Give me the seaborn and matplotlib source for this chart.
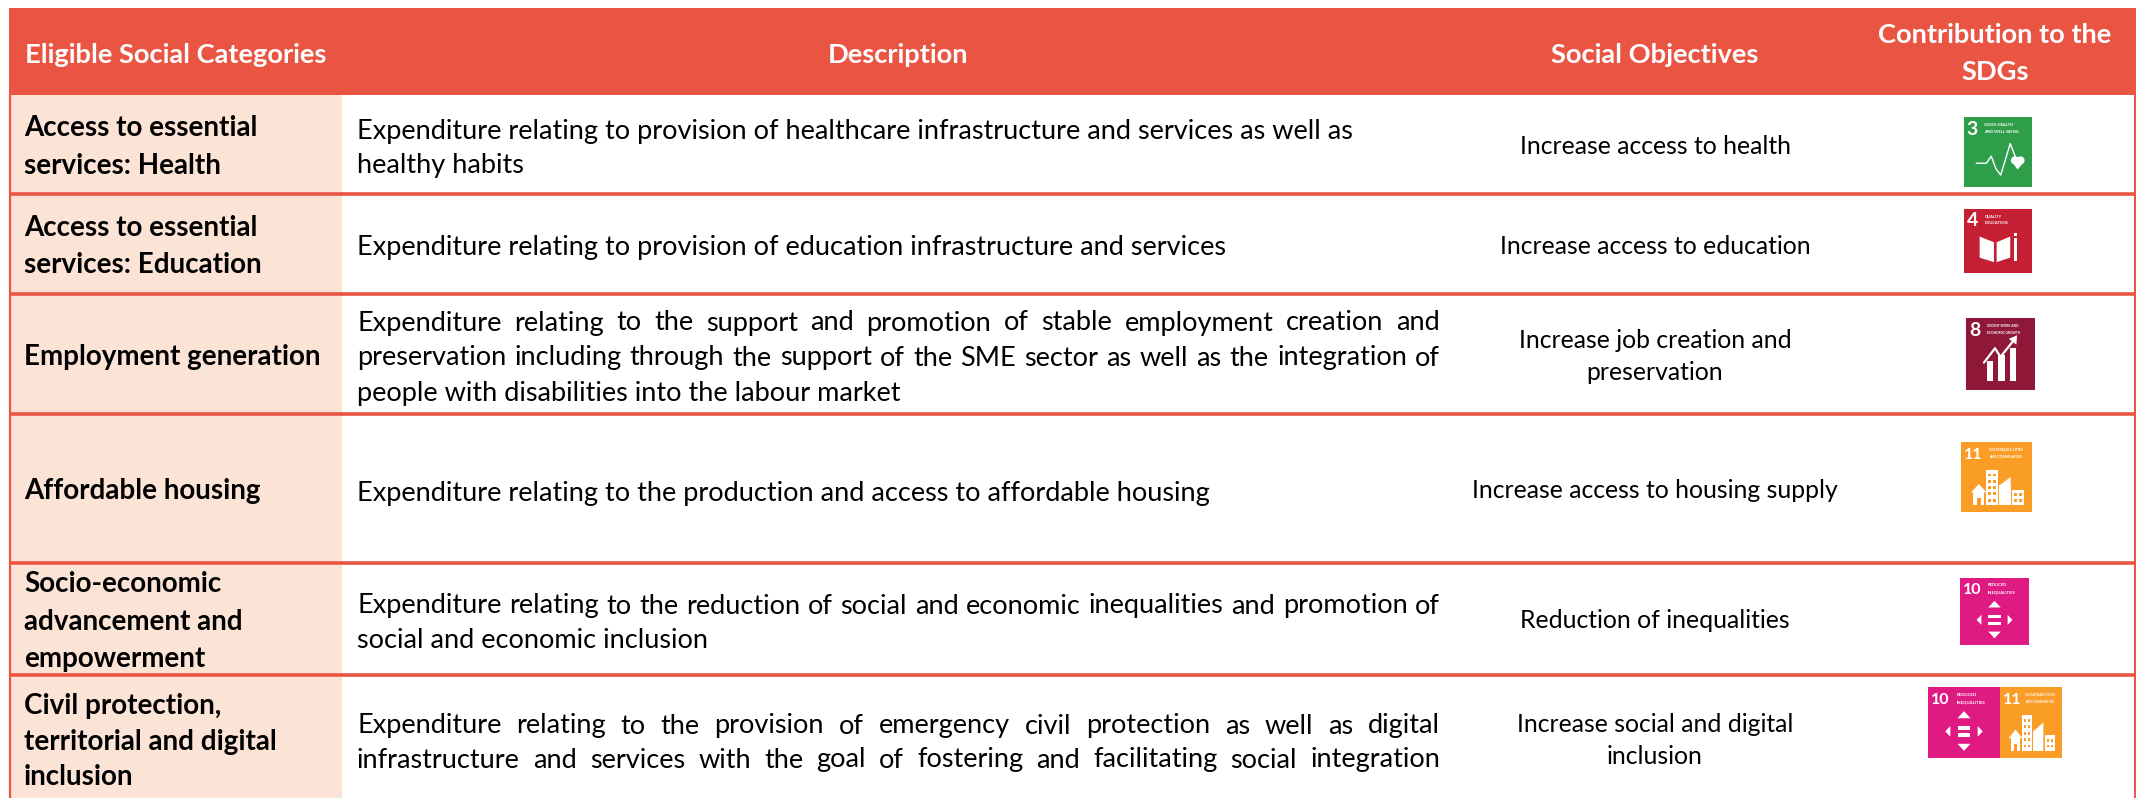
import matplotlib
matplotlib.use("Agg")
import matplotlib.pyplot as plt
import seaborn as sns
from matplotlib.patches import Polygon, Rectangle, Circle

# Style
sns.set_theme(style="white")
plt.rcParams['font.family'] = ['Lato', 'DejaVu Sans']

RED = "#EA5443"
PEACH = "#FBE4D5"
W, H = 2136, 798

# =========================
# table content
# =========================
headers = ["Eligible Social Categories", "Description", "Social Objectives", ["Contribution to the", "SDGs"]]

categories = [
    ["Access to essential", "services: Health"],
    ["Access to essential", "services: Education"],
    ["Employment generation"],
    ["Affordable housing"],
    ["Socio-economic", "advancement and", "empowerment"],
    ["Civil protection,", "territorial and digital", "inclusion"],
]
descriptions = [
    ["Expenditure relating to provision of healthcare infrastructure and services as well as", "healthy habits"],
    ["Expenditure relating to provision of education infrastructure and services"],
    ["Expenditure relating to the support and promotion of stable employment creation and",
     "preservation including through the support of the SME sector as well as the integration of",
     "people with disabilities into the labour market"],
    ["Expenditure relating to the production and access to affordable housing"],
    ["Expenditure relating to the reduction of social and economic inequalities and promotion of",
     "social and economic inclusion"],
    ["Expenditure relating to the provision of emergency civil protection as well as digital",
     "infrastructure and services with the goal of fostering and facilitating social integration"],
]
objectives = [
    ["Increase access to health"],
    ["Increase access to education"],
    ["Increase job creation and", "preservation"],
    ["Increase access to housing supply"],
    ["Reduction of inequalities"],
    ["Increase social and digital", "inclusion"],
]
sdg_numbers = [[3], [4], [8], [11], [10], [10, 11]]
sdg_titles = {
    3: ["GOOD HEALTH", "AND WELL-BEING"],
    4: ["QUALITY", "EDUCATION"],
    8: ["DECENT WORK AND", "ECONOMIC GROWTH"],
    10: ["REDUCED", "INEQUALITIES"],
    11: ["SUSTAINABLE CITIES", "AND COMMUNITIES"],
}
sdg_colors = {3: "#2E9E4B", 4: "#C41F33", 8: "#8F1838", 10: "#E01A83", 11: "#FA9D26"}

# =========================
# layout (pixels of the image)
# =========================
row_edges = [95, 194, 294, 414, 563, 675, 798]
cat_y = [[128, 166], [228, 265], [357], [491], [584, 622, 659], [706, 742, 777]]
desc_y = [[131, 166], [248], [323, 358, 393], [493], [606, 641], [726, 760]]
obj_y = [[146], [246], [340, 372], [491], [621], [724, 757]]
justify = [[False, False], [False], [True, True, False], [False], [True, False], [True, True]]
icon_boxes = [
    [(1964, 117, 68, 70)],
    [(1964, 209, 68, 64)],
    [(1966, 318, 69, 72)],
    [(1961, 442, 71, 70)],
    [(1960, 578, 69, 67)],
    [(1928, 687, 72, 71), (2000, 687, 62, 71)],
]
FS_DESC = 19.55
FS_OBJ = 17.8
FS_CAT = 20.0
FS_HEAD = 19.6

fig = plt.figure(figsize=(W / 100, H / 100), dpi=100)
ax = fig.add_axes([0, 0, 1, 1])
ax.set_xlim(0, W)
ax.set_ylim(H, 0)
ax.axis("off")


def put_justified(line, x0, x1, y, size):
    # place words one by one so the line fills the column
    r = fig.canvas.get_renderer()
    words = line.split(" ")
    items = [ax.text(0, y, w, fontsize=size, va="center", color="black") for w in words]
    widths = [t.get_window_extent(r).width for t in items]
    gap = (x1 - x0 - sum(widths)) / (len(words) - 1)
    x = x0
    for t, w in zip(items, widths):
        t.set_x(x)
        x += w + gap


def draw_icon(num, box):
    x, y, w, h = box
    c = sdg_colors[num]
    ax.add_patch(Rectangle((x, y), w, h, fc=c, ec="none", zorder=3))

    def px(u):
        return x + u * w

    def py(v):
        return y + v * h

    def poly(pts):
        ax.add_patch(Polygon([(px(a), py(b)) for a, b in pts], fc="white", ec="none", zorder=4))

    def bar(a, b, aw, bh, col="white"):
        ax.add_patch(Rectangle((px(a), py(b)), aw * w, bh * h, fc=col, ec="none", zorder=4))

    two_digit = num >= 10
    ax.text(px(0.04), py(0.18), str(num), color="white", fontsize=11.5 if two_digit else 14,
            fontweight="bold", va="center", ha="left", zorder=5)
    tx = 0.40 if two_digit else 0.30
    size = 2.4 * w / 70 if num in (8, 11) else 3.0 * w / 70
    for i, s in enumerate(sdg_titles[num]):
        ax.text(px(tx), py(0.11 + i * 0.105), s, color="white", fontsize=size, va="center",
                ha="left", zorder=5, fontweight="bold")

    if num == 3:
        xs = [0.18, 0.33, 0.40, 0.47, 0.54, 0.68, 0.76]
        ys = [0.66, 0.66, 0.56, 0.74, 0.83, 0.38, 0.58]
        ax.plot([px(a) for a in xs], [py(b) for b in ys], color="white", lw=1.0, zorder=4)
        ax.add_patch(Circle((px(0.75), py(0.62)), 0.05 * w, fc="white", zorder=4))
        ax.add_patch(Circle((px(0.83), py(0.62)), 0.05 * w, fc="white", zorder=4))
        poly([(0.70, 0.64), (0.88, 0.64), (0.79, 0.75)])
    elif num == 4:
        poly([(0.23, 0.43), (0.44, 0.52), (0.44, 0.83), (0.23, 0.76)])
        poly([(0.48, 0.52), (0.68, 0.43), (0.68, 0.76), (0.48, 0.83)])
        bar(0.74, 0.45, 0.035, 0.36)
        bar(0.74, 0.38, 0.035, 0.04)
    elif num == 8:
        bar(0.30, 0.60, 0.09, 0.27)
        bar(0.47, 0.52, 0.09, 0.35)
        bar(0.64, 0.42, 0.09, 0.45)
        ax.plot([px(0.26), px(0.42), px(0.50), px(0.70)], [py(0.62), py(0.42), py(0.54), py(0.30)],
                color="white", lw=1.6, zorder=4)
        poly([(0.62, 0.29), (0.74, 0.24), (0.73, 0.37)])
    elif num == 10:
        poly([(0.41, 0.44), (0.59, 0.44), (0.50, 0.34)])
        poly([(0.41, 0.80), (0.59, 0.80), (0.50, 0.90)])
        poly([(0.31, 0.55), (0.31, 0.70), (0.24, 0.625)])
        poly([(0.69, 0.55), (0.69, 0.70), (0.76, 0.625)])
        bar(0.41, 0.55, 0.18, 0.05)
        bar(0.41, 0.65, 0.18, 0.05)
    elif num == 11:
        bar(0.35, 0.40, 0.17, 0.50)
        bar(0.54, 0.62, 0.16, 0.28)
        poly([(0.54, 0.62), (0.70, 0.50), (0.70, 0.90), (0.54, 0.90)])
        bar(0.72, 0.68, 0.17, 0.22)
        bar(0.17, 0.70, 0.16, 0.20)
        poly([(0.14, 0.72), (0.36, 0.72), (0.25, 0.60)])
        bar(0.22, 0.80, 0.06, 0.10, c)
        for a in (0.38, 0.45):
            for b in (0.45, 0.54, 0.63, 0.72, 0.81):
                bar(a, b, 0.04, 0.04, c)
        for a in (0.75, 0.82):
            for b in (0.73, 0.81):
                bar(a, b, 0.04, 0.04, c)


# =========================
# backgrounds and rules
# =========================
ax.add_patch(Rectangle((9, 8), W - 9, 87, fc=RED, ec="none", zorder=1))
ax.add_patch(Rectangle((10, 95), 332, H - 95, fc=PEACH, ec="none", zorder=1))
for e in row_edges[1:-1]:
    ax.plot([9, W], [e, e], color=RED, lw=2.6, zorder=2, solid_capstyle="butt")
ax.plot([10, 10], [95, H], color=RED, lw=1.6, zorder=2)
ax.plot([2134.5, 2134.5], [95, H], color=RED, lw=1.4, zorder=2)

# =========================
# header
# =========================
ax.text(25, 55, headers[0], color="white", fontsize=FS_HEAD, fontweight="bold", va="center")
ax.text(898, 55, headers[1], color="white", fontsize=FS_HEAD, fontweight="bold", va="center", ha="center")
ax.text(1655, 55, headers[2], color="white", fontsize=FS_HEAD, fontweight="bold", va="center", ha="center")
for s, y in zip(headers[3], [35, 72]):
    ax.text(1995, y, s, color="white", fontsize=FS_HEAD, fontweight="bold", va="center", ha="center")

# =========================
# rows
# =========================
for i in range(len(categories)):
    for s, y in zip(categories[i], cat_y[i]):
        ax.text(24, y, s, fontsize=FS_CAT, fontweight="bold", va="center", color="black")
    for s, y, j in zip(descriptions[i], desc_y[i], justify[i]):
        if j:
            put_justified(s, 357, 1440, y, FS_DESC)
        else:
            ax.text(357, y, s, fontsize=FS_DESC, va="center", color="black")
    for s, y in zip(objectives[i], obj_y[i]):
        ax.text(1655, y, s, fontsize=FS_OBJ, va="center", ha="center", color="black")
    for n, box in zip(sdg_numbers[i], icon_boxes[i]):
        draw_icon(n, box)

sns.despine(fig=fig, left=True, bottom=True)
fig.savefig("out.png", dpi=100, facecolor="white")
